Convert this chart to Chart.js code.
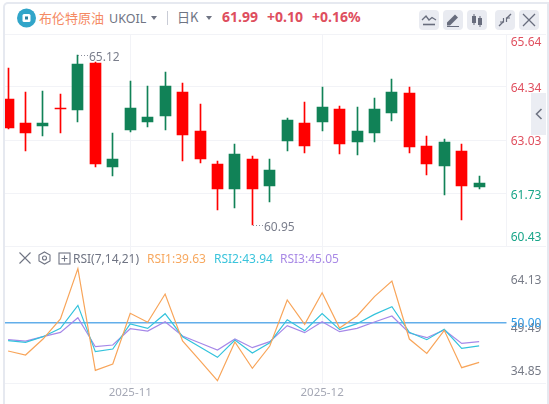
<!DOCTYPE html>
<html>
<head>
<meta charset="utf-8">
<title>UKOIL</title>
<script src="https://cdn.jsdelivr.net/npm/chart.js@4/dist/chart.umd.min.js"></script>
<style>
  html, body { margin: 0; padding: 0; background: #fff; }
  body { width: 549px; height: 404px; overflow: hidden; position: relative; font-family: "Noto Sans", "Noto Sans CJK SC", sans-serif; }
  .frame { position: absolute; left: 3px; top: 2px; width: 542px; height: 410px; border: 2px solid #e6e9f0; border-bottom: 0; border-radius: 5px 0 0 0; }
  .t { position: absolute; white-space: nowrap; line-height: 16px; }
  .rule { position: absolute; left: 506px; width: 40px; height: 1px; background: #f2f3f7; }
  .btn { position: absolute; top: 10px; width: 20px; height: 20px; border-radius: 4px; background: #e9ebf1; }
  .btn svg, .ico { position: absolute; left: 0; top: 0; }
  .ico { display: block; }
  .tab { position: absolute; left: 531px; top: 93px; width: 15px; height: 42px; background: #ebedf3; }
  canvas { position: absolute; }
  #priceBox { position: absolute; left: 5px; top: 30px; width: 541px; height: 220px; }
  #rsiBox { position: absolute; left: 5px; top: 240px; width: 541px; height: 164px; }
</style>
</head>
<body>
<div class="frame"></div>
<div class="rule" style="top:34px"></div>
<div class="rule" style="top:246px"></div>
<div class="rule" style="top:383px"></div>

<svg class="ico" style="left:17px;top:8px" width="20" height="20">
  <circle cx="9.5" cy="10" r="9.5" fill="#31a5c9"/>
  <rect x="5.5" y="6" width="8" height="8" rx="1.5" fill="#fff"/>
  <rect x="8" y="8.5" width="3" height="3" fill="#2b7f9e"/>
</svg>
<div class="t" style="left:39px;top:10px;font-size:13px;color:#f58a63;font-family:'Noto Sans CJK SC'">布伦特原油</div>
<div class="t" style="left:109px;top:11px;font-size:12.5px;color:#6f7483">UKOIL</div>
<svg class="ico" style="left:151px;top:16px" width="7" height="5"><path d="M0 0H6L3 4Z" fill="#6f7483"/></svg>
<svg class="ico" style="left:167px;top:11px" width="1" height="14"><rect width="1" height="14" fill="#c9ccd6"/></svg>
<div class="t" style="left:177px;top:9px;font-size:13px;color:#6f7483;font-family:'Noto Sans CJK SC'">日K</div>
<svg class="ico" style="left:206px;top:16px" width="7" height="5"><path d="M0 0H6L3 4Z" fill="#6f7483"/></svg>
<div class="t" style="left:222px;top:9px;font-size:14px;font-weight:700;color:#de4e5e">61.99</div>
<div class="t" style="left:267px;top:9px;font-size:14px;font-weight:700;color:#de4e5e">+0.10</div>
<div class="t" style="left:312px;top:9px;font-size:14px;font-weight:700;color:#de4e5e">+0.16%</div>

<div class="btn" style="left:419px"><svg width="20" height="20" fill="none" stroke="#686d7d" stroke-width="1.3"><path d="M3 10L7 6L10 10L13 7.500L17 10"/><path d="M4 14.500H16" stroke-width="1.6"/></svg></div>
<div class="btn" style="left:443px"><svg width="20" height="20"><path d="M4 12.500L12 4.500L15 7.500L7 15.500H4Z M4 16H16V17H4Z" fill="#686d7d"/></svg></div>
<div class="btn" style="left:467px"><svg width="20" height="20" fill="#686d7d"><rect x="5" y="6" width="4" height="7"/><rect x="6.500" y="4" width="1" height="11"/><rect x="11" y="8" width="4" height="7"/><rect x="12.500" y="6" width="1" height="11"/></svg></div>
<div class="btn" style="left:495px"><svg width="20" height="20" fill="none" stroke="#686d7d" stroke-width="1.4"><path d="M4 16L8.500 11.500M16 4L11.500 8.500"/><path d="M8.500 8V12H5M11.500 12V8H15" stroke-width="1.2"/></svg></div>
<div class="btn" style="left:519px"><svg width="20" height="20" fill="none" stroke="#686d7d" stroke-width="1.3"><path d="M4 4L16 16M16 4L4 16"/></svg></div>
<div class="tab"><svg class="ico" style="left:4px;top:15px" width="8" height="12" fill="none" stroke="#6f7483" stroke-width="1.6"><path d="M6.500 1L1.500 6L6.500 11"/></svg></div>

<div id="priceBox"><canvas id="priceChart"></canvas></div>
<div id="rsiBox"><canvas id="rsiChart"></canvas></div>

<svg class="ico" style="left:18px;top:251px" width="14" height="14" fill="none" stroke="#6f7483" stroke-width="1.1"><path d="M1.500 1.500L12.500 12.500M12.500 1.500L1.500 12.500"/></svg>
<svg class="ico" style="left:38px;top:251px" width="13" height="14" fill="none" stroke="#6f7483" stroke-width="1.1"><path d="M6.500 1L12 4V10L6.500 13L1 10V4Z"/><circle cx="6.500" cy="7" r="2"/></svg>
<svg class="ico" style="left:58px;top:252px" width="13" height="13" fill="none" stroke="#6f7483" stroke-width="1.1"><rect x="1" y="1" width="11" height="11"/><path d="M3.500 6.500H9.500M6.500 3.500V9.500"/></svg>
<div class="t" style="left:73px;top:251px;font-size:12px;color:#6f7483">RSI(7,14,21)</div>
<div class="t" style="left:147px;top:251px;font-size:12px;color:#f7a85f">RSI1:39.63</div>
<div class="t" style="left:214px;top:251px;font-size:12px;color:#3bc4dc">RSI2:43.94</div>
<div class="t" style="left:280px;top:251px;font-size:12px;color:#a98ae6">RSI3:45.05</div>

<script>
// tick labels, blank except at the first day of a month
const categories = ['', '', '', '', '', '', '', '2025-11', '', '', '', '', '', '', '', '', '', '', '2025-12', '', '', '', '', '', '', '', '', ''];

const opens  = [64.04, 63.45, 63.39, 63.82, 63.77, 64.92, 62.37, 63.28, 63.48, 63.62, 64.21, 63.26, 62.45, 61.83, 62.57, 61.91, 63.01, 63.45, 63.48, 63.79, 62.99, 63.21, 63.70, 64.19, 62.89, 62.40, 62.77, 61.89];
const highs  = [64.80, 64.21, 64.24, 64.16, 65.12, 64.95, 63.21, 64.48, 64.36, 64.70, 64.43, 63.92, 62.52, 62.94, 62.64, 62.57, 63.57, 63.97, 64.33, 63.87, 63.84, 64.06, 64.53, 64.33, 63.13, 63.06, 62.94, 62.15];
const lows   = [63.30, 62.77, 63.13, 63.21, 63.48, 62.37, 62.15, 63.23, 63.35, 63.28, 62.52, 62.47, 61.32, 61.37, 60.95, 61.52, 62.77, 62.72, 63.26, 62.69, 62.67, 62.99, 63.50, 62.72, 62.18, 61.69, 61.07, 61.83];
const closes = [63.33, 63.21, 63.45, 63.79, 64.90, 62.45, 62.57, 63.82, 63.60, 64.36, 63.16, 62.57, 61.83, 62.69, 61.83, 62.30, 63.53, 62.89, 63.84, 62.94, 63.26, 63.79, 64.21, 62.86, 62.45, 62.99, 61.91, 61.99];

const rsi1 = [42.61, 41.57, 45.74, 50.97, 64.13, 37.56, 39.22, 52.45, 50.10, 57.49, 45.22, 40.09, 34.85, 44.96, 38.09, 43.92, 55.93, 49.57, 57.84, 48.62, 51.75, 56.80, 60.89, 45.74, 42.00, 48.01, 38.26, 39.63];
const rsi2 = [45.31, 44.87, 46.35, 48.53, 54.53, 42.44, 43.13, 49.66, 48.53, 52.36, 46.35, 43.66, 40.96, 45.48, 42.09, 44.79, 50.79, 47.92, 52.36, 48.18, 49.75, 52.18, 54.19, 47.48, 45.57, 48.27, 43.31, 43.94];
const rsi3 = [45.57, 45.22, 46.35, 47.48, 51.31, 43.74, 44.18, 48.44, 47.83, 50.27, 46.53, 44.70, 42.87, 45.74, 43.48, 45.05, 49.23, 47.40, 50.27, 47.66, 48.53, 50.18, 51.75, 47.31, 46.09, 48.09, 44.61, 45.05];
const rsiLevel = 50;

const priceTicks = [60.43, 61.73, 63.03, 64.34, 65.64];
const rsiTicks = [34.85, 49.49, 50.00, 64.13];

const UP = '#118257', DOWN = '#ff0000';
const GRID = '#f2f3f7';
const FONT = '"Noto Sans", sans-serif';

// first candle is cut off by the left edge, some room is left after the last one
const xMin = -0.178, xMax = 28.58;

const candleColors = closes.map((c, i) => (c >= opens[i] ? UP : DOWN));

// chart.js has no inner align on a vertical axis. A two line label with one empty
// line moves the text by half the line height, so the shift goes in as the line height
function shiftedLabel(value, shift) {
  const text = value.toFixed(2);
  return shift > 0 ? ['', text] : [text, ''];
}
function shiftedFont(shift) {
  return { family: FONT, size: 12, lineHeight: Math.max(Math.abs(shift || 0) * 2, 1) + 'px' };
}

// the tall labels must not push the plot area in
function fitRightAxis(scale) {
  scale.width = 39.3;
  scale.paddingTop = 0;
  scale.paddingBottom = 0;
}

// keeps the candles on whole pixels, like the original
const snapBars = {
  id: 'snapBars',
  afterDatasetsUpdate(chart) {
    chart.data.datasets.forEach((ds, i) => {
      chart.getDatasetMeta(i).data.forEach(el => {
        el.x = Math.floor(el.x) + 0.5;
        el.y = Math.round(el.y);
        el.base = Math.round(el.base);
      });
    });
  }
};

// the small dotted notes on the highest and lowest price
const extremeNotes = {
  id: 'extremeNotes',
  afterDatasetsDraw(chart) {
    const { ctx, scales } = chart;
    const hi = Math.max(...highs), lo = Math.min(...lows);
    [[highs.indexOf(hi), hi], [lows.indexOf(lo), lo]].forEach(([i, v]) => {
      const x = Math.floor(scales.x.getPixelForValue(i)) + 1;
      const y = Math.round(scales.y.getPixelForValue(v));
      ctx.save();
      ctx.strokeStyle = '#8a8e9b';
      ctx.setLineDash([1, 2]);
      ctx.beginPath();
      ctx.moveTo(x, y + 0.5);
      ctx.lineTo(x + 11, y + 0.5);
      ctx.stroke();
      ctx.fillStyle = '#7a7e8c';
      ctx.font = '12px ' + FONT;
      ctx.textBaseline = 'middle';
      ctx.fillText(v.toFixed(2), x + 11, y + 3);
      ctx.restore();
    });
  }
};

function monthTicks(scale) {
  scale.ticks = categories.map((c, i) => ({ value: i, label: c })).filter(t => t.label);
}

const priceShift = { 60.43: -9, 61.73: 2, 63.03: 1, 64.34: 2, 65.64: 9 };

new Chart(document.getElementById('priceChart'), {
  type: 'bar',
  data: {
    datasets: [
      {
        data: categories.map((c, i) => ({ x: i, y: [lows[i], highs[i]] })),
        backgroundColor: candleColors,
        barThickness: 1,
        grouped: false,
        order: 2
      },
      {
        data: categories.map((c, i) => ({ x: i, y: [opens[i], closes[i]] })),
        backgroundColor: candleColors,
        barThickness: 11,
        grouped: false,
        order: 1
      }
    ]
  },
  plugins: [snapBars, extremeNotes],
  options: {
    responsive: true,
    maintainAspectRatio: false,
    animation: false,
    events: [],
    layout: { padding: { top: 4, bottom: 3.7 } },
    plugins: { legend: { display: false }, tooltip: { enabled: false } },
    scales: {
      x: {
        type: 'linear',
        offset: false,
        min: xMin,
        max: xMax,
        afterBuildTicks: monthTicks,
        afterFit(scale) { scale.height = 0; },
        ticks: { display: false },
        border: { display: false },
        grid: { color: GRID, drawTicks: false, offset: false }
      },
      y: {
        position: 'right',
        min: 60.43,
        max: 65.64,
        afterBuildTicks(scale) { scale.ticks = priceTicks.map(v => ({ value: v })); },
        afterFit: fitRightAxis,
        border: { color: GRID },
        grid: { color: GRID, drawTicks: false },
        ticks: {
          autoSkip: false,
          padding: 4,
          callback: v => shiftedLabel(v, priceShift[v]),
          font: ctx => shiftedFont(ctx.tick ? priceShift[ctx.tick.value] : 0),
          color: ctx => (ctx.tick && ctx.tick.value < 62 ? '#18a589' : '#e0505f')
        }
      }
    }
  }
});

const rsiShift = { 34.85: -9, 49.49: 3.5, 50: 1, 64.13: 11.5 };

function rsiSeries(values, color) {
  return {
    data: values.map((v, i) => ({ x: i, y: v })),
    borderColor: color,
    borderWidth: 1.2,
    pointRadius: 0,
    tension: 0
  };
}

new Chart(document.getElementById('rsiChart'), {
  type: 'line',
  data: {
    datasets: [
      rsiSeries(rsi1, '#f8a55a'),
      rsiSeries(rsi2, '#33c3dc'),
      rsiSeries(rsi3, '#a688e8'),
      {
        data: [{ x: xMin, y: rsiLevel }, { x: xMax, y: rsiLevel }],
        borderColor: '#62aeea',
        borderWidth: 1.5,
        pointRadius: 0
      }
    ]
  },
  options: {
    responsive: true,
    maintainAspectRatio: false,
    animation: false,
    events: [],
    layout: { padding: { top: 6 } },
    plugins: { legend: { display: false }, tooltip: { enabled: false } },
    scales: {
      x: {
        type: 'linear',
        min: xMin,
        max: xMax,
        afterBuildTicks: monthTicks,
        afterFit(scale) { scale.height = 21; },
        border: { color: GRID },
        grid: { color: GRID, drawTicks: false },
        ticks: {
          autoSkip: false,
          maxRotation: 0,
          padding: 3,
          callback: v => categories[v],
          color: '#a5a8b5',
          font: { family: FONT, size: 11.5 }
        }
      },
      y: {
        position: 'right',
        min: 34.26,
        max: 70.03,
        afterBuildTicks(scale) { scale.ticks = rsiTicks.map(v => ({ value: v })); },
        afterFit: fitRightAxis,
        border: { display: false },
        grid: { display: false, drawTicks: false },
        ticks: {
          autoSkip: false,
          padding: 4,
          callback: v => shiftedLabel(v, rsiShift[v]),
          font: ctx => shiftedFont(ctx.tick ? rsiShift[ctx.tick.value] : 0),
          color: ctx => (ctx.tick && ctx.tick.value === rsiLevel ? '#2e9be6' : '#777b87')
        }
      }
    }
  }
});
</script>
</body>
</html>
